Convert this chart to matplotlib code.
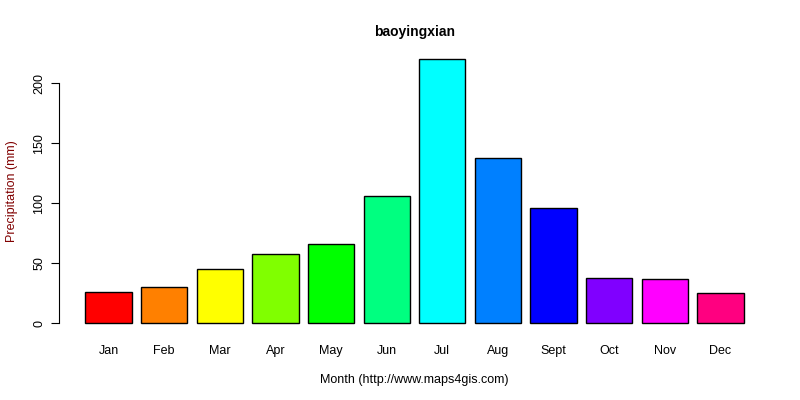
import numpy as np
import matplotlib
matplotlib.use('Agg')
import matplotlib.pyplot as plt

plt.rcParams['font.family'] = ['Liberation Sans', 'DejaVu Sans']

months = ['Jan', 'Feb', 'Mar', 'Apr', 'May', 'Jun',
          'Jul', 'Aug', 'Sept', 'Oct', 'Nov', 'Dec']
precip = [25.8, 30.0, 45.0, 57.5, 65.8, 105.8,
          220.0, 137.5, 95.8, 37.5, 36.7, 25.0]
colors = ['#FF0000', '#FF8000', '#FFFF00', '#80FF00', '#00FF00', '#00FF80',
          '#00FFFF', '#0080FF', '#0000FF', '#8000FF', '#FF00FF', '#FF0080']
yticks = [0, 50, 100, 150, 200]

fig = plt.figure(figsize=(8, 4), dpi=100)
ax = fig.add_axes([0.07375, 0.165, 0.88875, 0.713])

# R barplot layout: width 1, space 0.2
x = 0.2 + np.arange(len(months)) * 1.2 + 0.5
ax.bar(x, precip, width=1.0, color=colors, edgecolor='black', linewidth=1.0)

xmin, xmax = x[0] - 0.5, x[-1] + 0.5
ext = 0.04 * (xmax - xmin)
ax.set_xlim(xmin - ext, xmax + ext)
ymax = max(precip)
ax.set_ylim(-0.04 * ymax, ymax * 1.04)

for s in ['top', 'right', 'bottom']:
    ax.spines[s].set_visible(False)
ax.spines['left'].set_bounds(0, 200)

ax.set_yticks(yticks)
ax.set_yticklabels([str(v) for v in yticks], rotation=90, va='center', fontsize=9)
ax.tick_params(axis='y', length=6, width=0.8, pad=4)
ax.set_xticks(x)
ax.set_xticklabels(months, fontsize=9)
ax.tick_params(axis='x', length=0, pad=8)

ax.set_title('baoyingxian', fontsize=10, fontweight='bold', pad=9)
ax.set_xlabel('Month (http://www.maps4gis.com)', fontsize=9, labelpad=12)
ax.set_ylabel('Precipitation (mm)', fontsize=9, color='#800000', labelpad=11)

fig.savefig('out.png', dpi=100, facecolor='white')
